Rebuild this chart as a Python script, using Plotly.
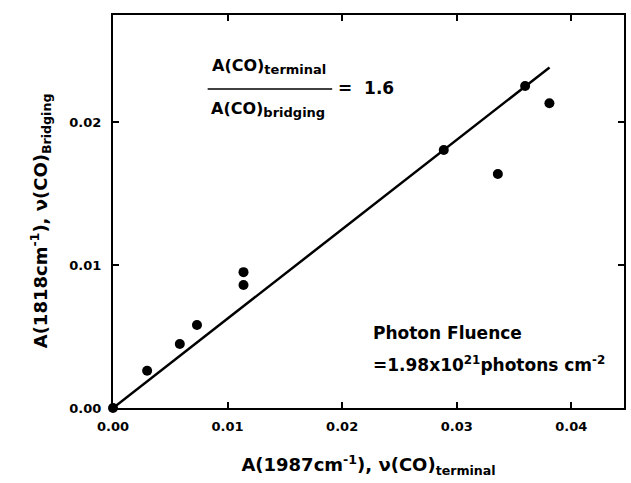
import plotly.graph_objects as go

# data
x_terminal = [0.0, 0.00298, 0.00583, 0.00733, 0.01139, 0.01139, 0.02887, 0.03359, 0.03597, 0.03809]
y_bridging = [0.0, 0.00260, 0.00448, 0.00580, 0.00950, 0.00860, 0.01804, 0.01636, 0.02252, 0.02131]
ratio = 1.6
fit_x = [0.0, 0.0381]
fit_y = [v / ratio for v in fit_x]
x_ticks = [0.0, 0.01, 0.02, 0.03, 0.04]
y_ticks = [0.0, 0.01, 0.02]

FONT = "DejaVu Sans"

fig = go.Figure()
fig.add_trace(go.Scatter(x=fit_x, y=fit_y, mode="lines",
                         line=dict(color="black", width=2.5), showlegend=False,
                         cliponaxis=False))
fig.add_trace(go.Scatter(x=x_terminal, y=y_bridging, mode="markers",
                         marker=dict(color="black", size=10), showlegend=False,
                         cliponaxis=False))

axis_common = dict(showline=True, linecolor="black", linewidth=2, mirror="ticks",
                   ticks="inside", ticklen=6, tickwidth=1.5, tickcolor="black",
                   showgrid=False, zeroline=False, tickformat=".2f",
                   tickfont=dict(family=FONT, size=13, color="black", weight="bold"))

fig.update_xaxes(range=[0, 0.0446], tickvals=x_ticks, ticklabelstandoff=5, **axis_common,
                 title=dict(text="A(1987cm<sup>-1</sup>), ν(CO)<sub>terminal</sub>",
                            font=dict(family=FONT, size=18, color="black", weight="bold"),
                            standoff=26))
fig.update_yaxes(range=[0, 0.02748], tickvals=y_ticks, ticklabelstandoff=7, **axis_common)

# y-axis title placed as rotated annotation
fig.add_annotation(x=-0.1423, y=0.4758, xref="paper", yref="paper", showarrow=False,
                   textangle=-90, xanchor="center", yanchor="middle",
                   text="A(1818cm<sup>-1</sup>), ν(CO)<sub>Bridging</sub>",
                   font=dict(family=FONT, size=18, color="black", weight="bold"))

tf = dict(family=FONT, size=16, color="black", weight="bold")
tf2 = dict(family=FONT, size=17, color="black", weight="bold")
fig.add_annotation(x=0.01361, y=0.02385, xref="x", yref="y", showarrow=False,
                   text="A(CO)<sub><span style='font-size:13px'>terminal</span></sub>", font=tf)
fig.add_annotation(x=0.01357, y=0.02088, xref="x", yref="y", showarrow=False,
                   text="A(CO)<sub><span style='font-size:13px'>bridging</span></sub>", font=tf)
fig.add_shape(type="line", x0=0.00826, x1=0.01913, y0=0.02231, y1=0.02231,
              xref="x", yref="y", line=dict(color="black", width=1.5))
fig.add_annotation(x=0.01948, y=0.02238, xref="x", yref="y", showarrow=False,
                   xanchor="left", text="=  1.6", font=tf2)

fig.add_annotation(x=0.02252, y=0.00524, xref="x", yref="y", showarrow=False,
                   xanchor="left", text="Photon Fluence", font=tf2)
fig.add_annotation(x=0.02252, y=0.00308, xref="x", yref="y", showarrow=False,
                   xanchor="left",
                   text="=1.98x10<sup>21</sup>photons cm<sup>-2</sup>", font=tf2)

fig.update_layout(width=631, height=483, margin=dict(l=113, r=5, t=15, b=75),
                  plot_bgcolor="white", paper_bgcolor="white",
                  font=dict(family=FONT, color="black"))

fig.write_html("out.html")
